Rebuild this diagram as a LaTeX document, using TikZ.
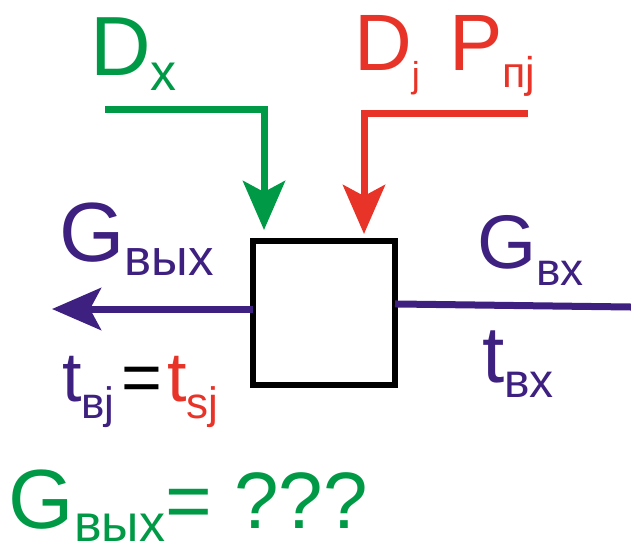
\documentclass[tikz,border=0pt]{standalone}
\usepackage{fontspec}
\setmainfont{Liberation Sans}
\usetikzlibrary{arrows.meta}
\definecolor{cgreen}{RGB}{0,154,70}
\definecolor{cred}{RGB}{232,52,40}
\definecolor{cpurple}{RGB}{62,32,128}
\newcommand\fsz[1]{\fontsize{#1pt}{#1pt}\selectfont}
\newcommand\sbx[3]{\raisebox{-#1pt}{\fsz{#2}#3}}
\tikzset{
  lbl/.style={anchor=base west, inner sep=0pt, outer sep=0pt},
  flow/.style={line width=7pt},
  tipB/.style={-{Stealth[length=49pt,width=42pt,inset=11pt]}},
  blockbox/.style={draw=black, line width=6pt, minimum width=142pt, minimum height=144pt, inner sep=0pt}
}
\begin{document}
\begin{tikzpicture}[x=1pt,y=-1pt]
\useasboundingbox (0,0) rectangle (631,550);
% block
\node[blockbox] (box) at (324,313) {};
% coordinates for free ends
\coordinate (gstart) at (105,109);
\coordinate (rstart) at (528,113);
\coordinate (outL) at (52,309);
\coordinate (inR) at (631,307);
% green input
\draw[flow, cgreen, tipB, shorten >=8pt, line join=miter] (gstart) -| ([xshift=14pt]box.north west);
% red input
\draw[flow, cred, tipB, shorten >=4pt, line join=miter] (rstart) -| ([xshift=114pt]box.north west);
% outlet
\draw[flow, cpurple, tipB, shorten <=-3pt] ([yshift=4pt]box.west) -- (outL);
% inlet
\draw[flow, cpurple, shorten >=-3pt] (inR) -- ([yshift=9pt]box.east);
% labels
\node[lbl, cgreen] (dx) at (90,75) {\fsz{84}D\sbx{15}{52}{х}};
\node[lbl, cred] (dj) at (354,70) {\fsz{80}D\sbx{17}{36}{j}};
\node[lbl, cred] (pp) at (449,70) {\fsz{80}P\sbx{17}{43}{пj}};
\node[lbl, cpurple] (gout) at (59,261) {\fsz{84}G\sbx{14}{51}{вых}};
\node[lbl, cpurple] (tout) at (62,401) {\fsz{70}t\sbx{17}{44}{вj}\kern7pt\textcolor{black}{=}\kern5pt\textcolor{cred}{t\sbx{17}{44}{sj}}};
\node[lbl, cpurple] (gin) at (477,268) {\fsz{76}G\sbx{17}{46}{вх}};
\node[lbl, cpurple] (tin) at (482,382) {\fsz{80}t\sbx{15}{48}{вх}};
\node[lbl, cgreen] (res) at (9,528) {\fsz{84}G\sbx{13}{52}{вых}\fsz{80}= ???};
\end{tikzpicture}
\end{document}
